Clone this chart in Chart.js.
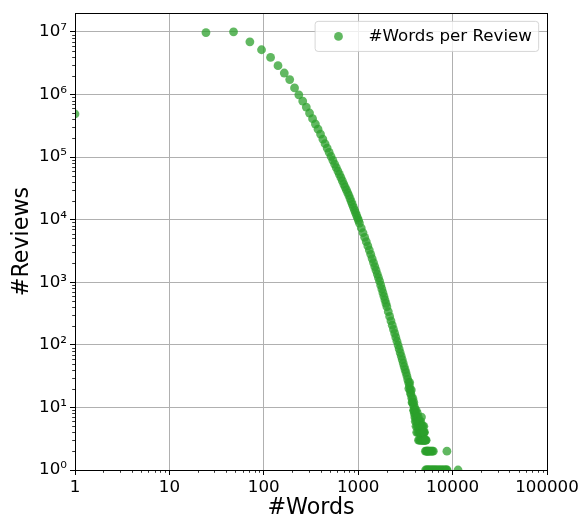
<!DOCTYPE html>
<html><head><meta charset="utf-8">
<script src="https://cdn.jsdelivr.net/npm/chart.js@4/dist/chart.umd.min.js"></script>
<style>html,body{margin:0;padding:0;background:#fff}#wrap{width:587px;height:520px;position:relative}</style>
</head><body><div id="wrap"><canvas id="c" width="587" height="520"></canvas></div>
<script>
// ---- data ----
const seriesLabel = '#Words per Review';
const wordCounts = [
  1, 24.4, 47.8, 71.2, 94.6, 118, 141.4, 164.8, 188.2, 211.6, 235, 258.4, 281.8, 305.2, 328.6,
  352, 375.4, 398.8, 422.2, 445.6, 469, 492.4, 515.8, 539.2, 562.6, 586, 609.4, 632.8, 656.2, 679.6,
  703, 726.4, 749.8, 773.2, 796.6, 820, 843.4, 866.8, 890.2, 913.6, 937, 960.4, 983.8, 1007.2,
  1030.6, 1077.4, 1124.2, 1171, 1217.8, 1264.6, 1311.4, 1358.2, 1405, 1451.8, 1498.6, 1545.4, 1592.2,
  1639, 1685.8, 1732.6, 1779.4, 1826.2, 1873, 1919.8, 1966.6, 2013.4,
  2083.6, 2153.8, 2224, 2294.2, 2364.4, 2434.6, 2504.8, 2575, 2645.2, 2715.4, 2785.6, 2855.8, 2926,
  2996.2, 3066.4, 3136.6, 3206.8, 3277, 3347.2, 3417.4, 3440.8, 3487.6, 3511, 3557.8, 3581.2, 3628,
  3651.4, 3698.2, 3721.6, 3768.4, 3791.8, 3838.6, 3862, 3885.4, 3908.8,
  3932.2, 3955.6, 3979, 4002.4, 4025.8, 4049.2, 4072.6, 4096, 4119.4, 4142.8, 4166.2, 4189.6, 4213,
  4236.4, 4259.8, 4283.2, 4306.6, 4330, 4353.4, 4376.8, 4400.2, 4423.6, 4447, 4470.4, 4493.8, 4517.2,
  4540.6, 4564, 4587.4, 4610.8, 4634.2, 4657.6, 4681, 4704.4, 4727.8, 4751.2, 4774.6, 4798, 4821.4,
  4844.8, 4868.2, 4891.6, 4915, 4938.4, 4961.8, 4985.2, 5008.6, 5032, 5055.4, 5102.2, 5149, 5172.4,
  5195.8, 5242.6, 5266, 5289.4, 5336.2, 5383, 5429.8, 5476.6, 5523.4, 5570.2, 5617, 5687.2, 5757.4,
  5827.6, 5897.8, 5968, 6038.2, 6108.4, 6178.6, 6248.8, 6319, 6459.4, 6623.2, 6787, 6974.2, 7161.4,
  7348.6, 7559.2, 7769.8, 7980.4, 8191, 8425, 8659, 8705.8, 8752.6, 11420.2
];
const reviewCounts = [
  487000, 9750000, 10000000, 6930000, 5180000, 3910000, 2880000, 2200000, 1730000, 1270000, 986000, 784000, 629000, 505000, 410000,
  337000, 279000, 233000, 194000, 163000, 139000, 119000, 102000, 88600, 77300, 67700, 59700, 52800, 46800, 41500,
  37000, 33200, 29800, 26900, 24300, 21700, 19400, 17500, 15700, 14200, 12900, 11700, 10700, 9710,
  8830, 7350, 6170, 5210, 4440, 3800, 3270, 2790, 2390, 2060, 1780, 1550, 1350,
  1180, 1040, 898, 780, 681, 595, 522, 459, 406,
  339, 284, 241, 206, 176, 152, 131, 114, 99, 86, 75, 66, 58,
  51, 45, 40, 36, 32, 28, 25, 20, 22, 25, 19, 17, 16,
  19, 14, 12, 12, 14, 11, 9, 12, 9,
  8, 10, 7, 9, 6, 8, 7, 5, 9, 6, 4, 7, 5,
  8, 6, 4, 5, 7, 3, 6, 4, 5, 3, 6, 4, 5,
  3, 4, 6, 3, 5, 4, 7, 3, 4, 5, 3, 4, 3,
  5, 4, 3, 4, 3, 5, 4, 3, 4, 3, 3, 2, 1,
  3, 3, 2, 1, 2, 1, 2, 2, 1, 2, 1, 2, 1,
  2, 1, 2, 1, 2, 1, 2, 1, 1, 1, 1, 1, 1,
  1, 1, 1, 1, 1, 1, 1, 2, 1, 1
];
const xTicks = [1, 10, 100, 1000, 10000, 100000];
const xTickLabels = ['1', '10', '100', '1000', '10000', '100000'];
const yTicks = [1, 10, 100, 1000, 10000, 100000, 1000000, 10000000];
const yTickLabels = ['10⁰', '10¹', '10²', '10³', '10⁴', '10⁵', '10⁶', '10⁷'];
const xTitle = '#Words';
const yTitle = '#Reviews';
const xMin = 1, xMax = 100000, yMin = 1, yMax = 2.0e7;

// ---- styling ----
const FONT = '"DejaVu Sans", "Liberation Sans", sans-serif';
const TICK_FS = 16.7, TITLE_FS = 22.2;
const POINT_COLOR = 'rgba(44,160,44,0.75)';

const points = wordCounts.map((w, i) => ({ x: w, y: reviewCounts[i] }));

const framePlugin = {
  id: 'frame',
  afterDatasetsDraw(chart) {
    const { ctx, chartArea: a } = chart;
    ctx.save();
    // minor ticks
    ctx.strokeStyle = '#000';
    ctx.lineWidth = 0.8;
    const xs = chart.scales.x, ys = chart.scales.y;
    for (let d = 1; d < xMax; d *= 10) {
      for (let m = 2; m <= 9; m++) {
        const v = m * d; if (v <= xMin || v >= xMax) continue;
        const px = Math.round(xs.getPixelForValue(v)) + 0.5;
        ctx.beginPath(); ctx.moveTo(px, a.bottom); ctx.lineTo(px, a.bottom + 2.8); ctx.stroke();
      }
    }
    for (let d = 1; d < yMax; d *= 10) {
      for (let m = 2; m <= 9; m++) {
        const v = m * d; if (v <= yMin || v >= yMax) continue;
        const py = Math.round(ys.getPixelForValue(v)) + 0.5;
        ctx.beginPath(); ctx.moveTo(a.left, py); ctx.lineTo(a.left - 2.8, py); ctx.stroke();
      }
    }
    // frame
    ctx.lineWidth = 1;
    ctx.strokeStyle = '#000';
    ctx.strokeRect(Math.round(a.left) + 0.5, Math.round(a.top) + 0.5,
      Math.round(a.right) - Math.round(a.left), Math.round(a.bottom) - Math.round(a.top));
    ctx.restore();
  }
};

const legendPlugin = {
  id: 'mplLegend',
  afterDraw(chart) {
    const { ctx, chartArea: a } = chart;
    const ds = chart.data.datasets[0];
    const fs = TICK_FS;
    ctx.save();
    ctx.font = fs + 'px ' + FONT;
    const tw = ctx.measureText(ds.label).width;
    const pad = 0.4 * fs, handle = 2 * fs, gap = 0.8 * fs, axpad = 0.5 * fs;
    const h = fs + 2 * pad;
    const w = 2 * pad + handle + gap + tw;
    const right = a.right - axpad, top = a.top + axpad, left = right - w;
    const r = 3;
    ctx.beginPath();
    ctx.moveTo(left + r, top);
    ctx.lineTo(right - r, top); ctx.arcTo(right, top, right, top + r, r);
    ctx.lineTo(right, top + h - r); ctx.arcTo(right, top + h, right - r, top + h, r);
    ctx.lineTo(left + r, top + h); ctx.arcTo(left, top + h, left, top + h - r, r);
    ctx.lineTo(left, top + r); ctx.arcTo(left, top, left + r, top, r);
    ctx.closePath();
    ctx.fillStyle = 'rgba(255,255,255,0.8)';
    ctx.fill();
    ctx.strokeStyle = 'rgba(204,204,204,0.8)';
    ctx.lineWidth = 1;
    ctx.stroke();
    ctx.fillStyle = ds.backgroundColor;
    ctx.beginPath();
    ctx.arc(left + pad + handle / 2, top + h / 2, ds.pointRadius, 0, Math.PI * 2);
    ctx.fill();
    ctx.fillStyle = '#000';
    ctx.textBaseline = 'middle';
    ctx.textAlign = 'left';
    ctx.fillText(ds.label, left + pad + handle + gap, top + h / 2 + 0.5);
    ctx.restore();
  }
};

new Chart(document.getElementById('c'), {
  type: 'scatter',
  data: {
    datasets: [{
      label: seriesLabel,
      data: points,
      backgroundColor: POINT_COLOR,
      borderWidth: 0,
      pointRadius: 4.4,
      pointHoverRadius: 4.4,
      clip: 0
    }]
  },
  options: {
    responsive: false,
    animation: false,
    devicePixelRatio: 1,
    layout: { padding: { top: 10, right: 40, left: 0, bottom: 0 } },
    plugins: { legend: { display: false }, tooltip: { enabled: false } },
    scales: {
      x: {
        type: 'logarithmic', position: 'bottom', min: xMin, max: xMax,
        afterBuildTicks: s => { s.ticks = xTicks.map(v => ({ value: v })); },
        afterFit: s => { s.height = 50; },
        ticks: {
          autoSkip: false, maxRotation: 0, minRotation: 0, padding: 3, color: '#000',
          font: { family: FONT, size: TICK_FS },
          callback: v => xTickLabels[xTicks.indexOf(v)]
        },
        grid: { color: '#b0b0b0', lineWidth: 1, tickColor: '#000', tickLength: 5, drawTicks: true },
        border: { display: true, color: '#000', width: 1 },
        title: { display: true, text: xTitle, color: '#000',
          font: { family: FONT, size: TITLE_FS, lineHeight: 1.0 }, padding: { top: 0, bottom: 1 } }
      },
      y: {
        type: 'logarithmic', position: 'left', min: yMin, max: yMax,
        afterBuildTicks: s => { s.ticks = yTicks.map(v => ({ value: v })); },
        afterFit: s => { s.width = 75; },
        ticks: {
          autoSkip: false, padding: 3, color: '#000',
          font: { family: FONT, size: TICK_FS },
          callback: v => yTickLabels[yTicks.indexOf(v)]
        },
        grid: { color: '#b0b0b0', lineWidth: 1, tickColor: '#000', tickLength: 5, drawTicks: true },
        border: { display: true, color: '#000', width: 1 },
        title: { display: true, text: yTitle, color: '#000',
          font: { family: FONT, size: TITLE_FS, lineHeight: 1.0 }, padding: { top: 11, bottom: 0 } }
      }
    }
  },
  plugins: [framePlugin, legendPlugin]
});
</script>
</body></html>
